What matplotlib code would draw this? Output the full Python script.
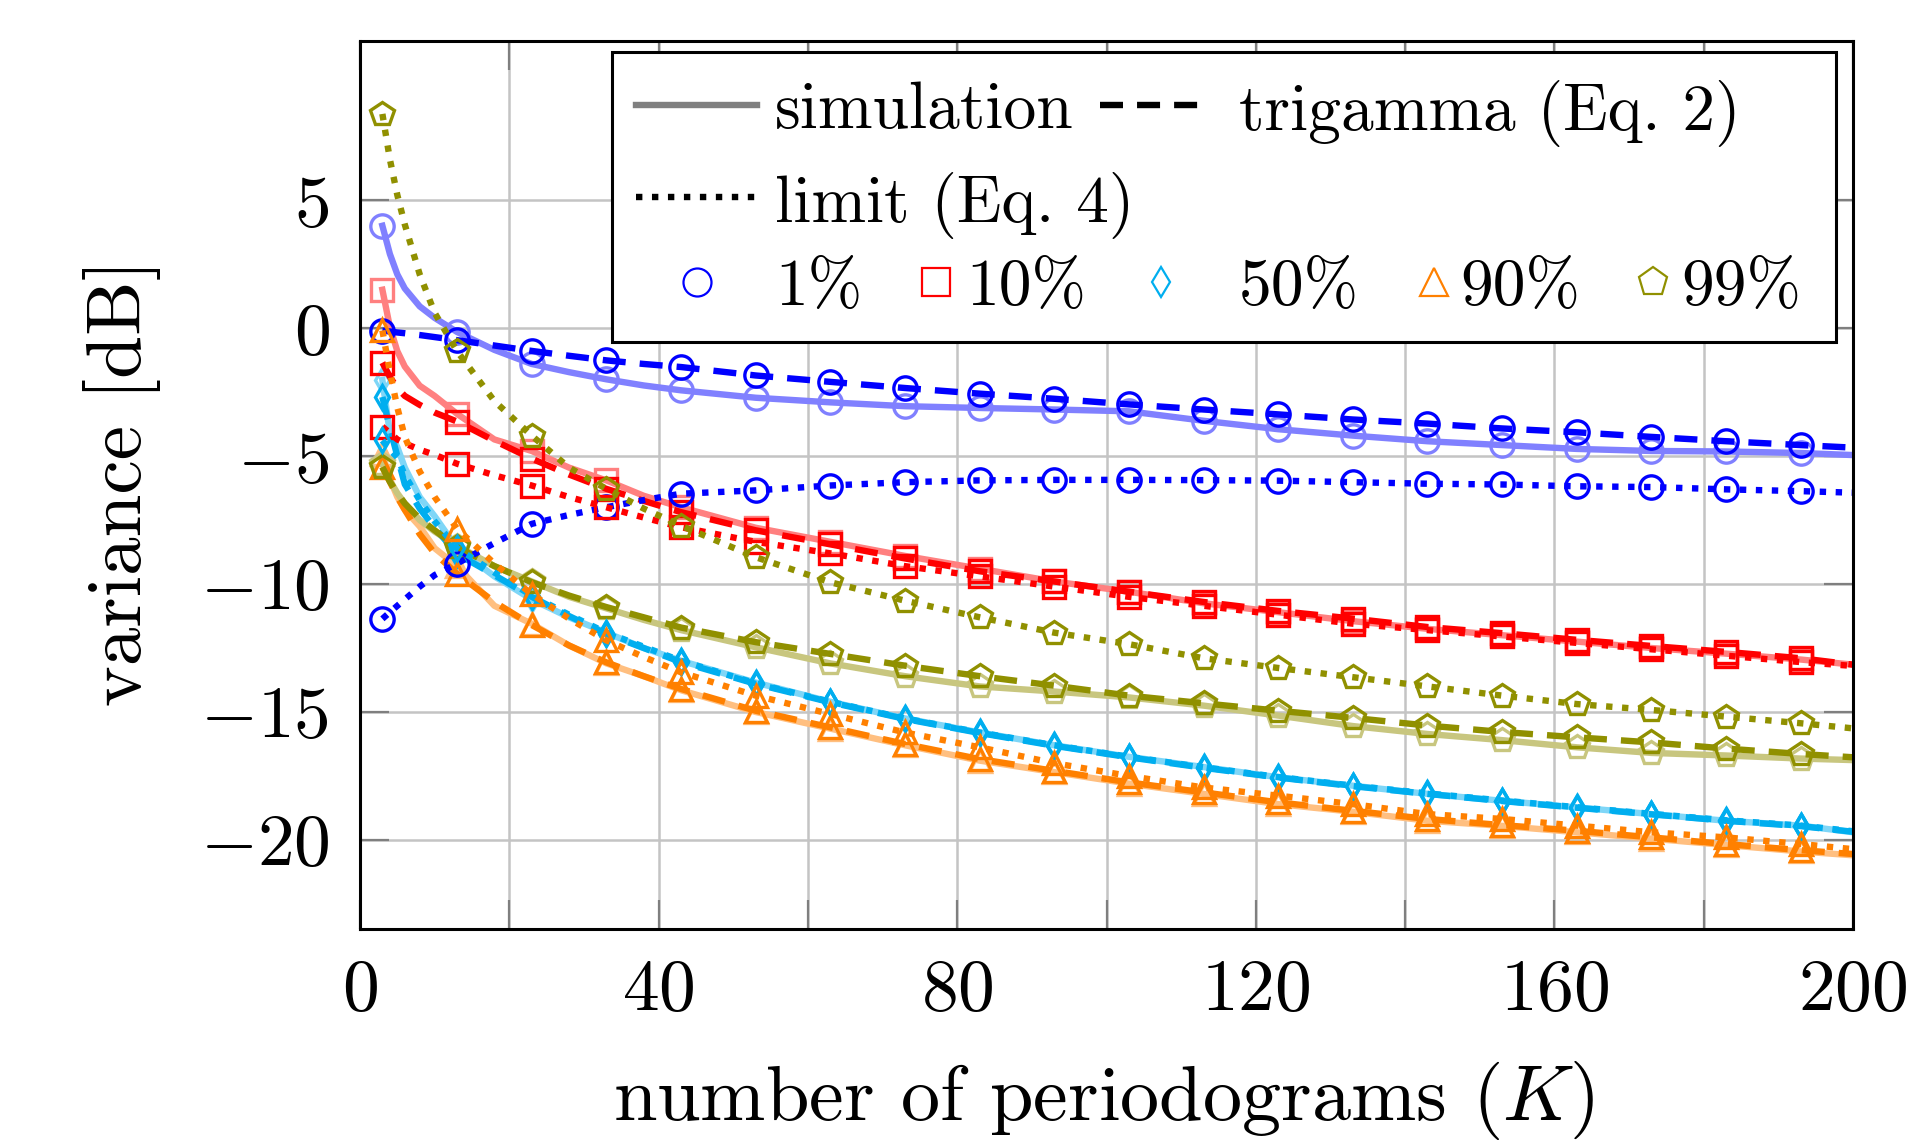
import matplotlib
matplotlib.use('Agg')
import matplotlib.pyplot as plt
from matplotlib.patches import Rectangle
from matplotlib.lines import Line2D

plt.rcParams['font.family'] = 'serif'
plt.rcParams['font.serif'] = ['cmr10']
plt.rcParams['mathtext.fontset'] = 'cm'
plt.rcParams['axes.formatter.use_mathtext'] = True

# number of periodograms K (dense at the start where curves bend)
K = [3, 4, 5, 6, 8, 10, 13, 18, 23, 28, 33, 38, 43, 53, 63, 73, 83, 93, 103,
     113, 123, 133, 143, 153, 163, 173, 183, 193, 200]
K_MARK = list(range(3, 200, 10))

# variance [dB] per quantile: simulation / trigamma (Eq. 2) / limit (Eq. 4)
sim_1 = [4.0, 2.9, 2.1, 1.55, 0.85, 0.4, -0.15, -0.85, -1.4, -1.72, -2.0, -2.24, -2.43, -2.72, -2.9,
         -3.05, -3.12, -3.18, -3.25, -3.62, -3.95, -4.2, -4.42, -4.57, -4.72, -4.8, -4.82, -4.88, -4.96]
tri_1 = [-0.1, -0.13, -0.17, -0.2, -0.27, -0.35, -0.47, -0.68, -0.89, -1.08, -1.26, -1.4, -1.52, -1.85, -2.1,
         -2.34, -2.56, -2.76, -2.98, -3.18, -3.37, -3.57, -3.73, -3.92, -4.07, -4.25, -4.42, -4.57, -4.67]
lim_1 = [-11.36, -11.1, -10.85, -10.6, -10.1, -9.65, -9.2, -8.4, -7.65, -7.3, -7.0, -6.72, -6.47, -6.34, -6.15,
         -6.02, -5.95, -5.93, -5.93, -5.94, -5.96, -6.02, -6.08, -6.11, -6.18, -6.21, -6.3, -6.37, -6.43]

sim_10 = [1.5, 0.05, -0.9, -1.5, -2.25, -2.65, -3.35, -4.35, -4.8, -5.45, -5.95, -6.55, -7.0, -7.8, -8.35,
          -8.9, -9.4, -9.9, -10.3, -10.75, -11.1, -11.45, -11.75, -12.0, -12.25, -12.5, -12.72, -12.95, -13.15]
tri_10 = [-1.35, -1.9, -2.35, -2.65, -3.0, -3.3, -3.65, -4.4, -5.1, -5.72, -6.28, -6.75, -7.19, -7.9, -8.45,
          -9.0, -9.5, -9.9, -10.3, -10.7, -11.05, -11.35, -11.68, -11.92, -12.18, -12.42, -12.65, -12.9, -13.15]
lim_10 = [-3.85, -4.1, -4.35, -4.5, -4.75, -4.95, -5.3, -5.75, -6.15, -6.6, -7.0, -7.4, -7.78, -8.35, -8.8,
          -9.3, -9.7, -10.1, -10.5, -10.85, -11.2, -11.55, -11.8, -12.05, -12.3, -12.55, -12.8, -13.05, -13.2]

sim_50 = [-2.03, -4.1, -4.65, -5.45, -6.6, -7.35, -8.6, -9.7, -10.6, -11.3, -11.9, -12.5, -13.0, -13.85, -14.6,
          -15.25, -15.8, -16.3, -16.75, -17.15, -17.55, -17.88, -18.2, -18.47, -18.73, -18.99, -19.25, -19.44, -19.7]
tri_50 = [-2.69, -3.9, -5.0, -6.1, -7.05, -7.8, -8.82, -9.65, -10.5, -11.25, -11.95, -12.5, -13.05, -13.9, -14.62,
          -15.27, -15.82, -16.32, -16.77, -17.18, -17.56, -17.9, -18.2, -18.48, -18.74, -19.0, -19.25, -19.46, -19.68]
lim_50 = [-4.39, -4.75, -5.05, -5.75, -6.73, -7.55, -8.6, -9.55, -10.45, -11.2, -11.9, -12.45, -13.0, -13.88, -14.6,
          -15.25, -15.8, -16.3, -16.75, -17.16, -17.54, -17.88, -18.18, -18.46, -18.72, -18.98, -19.23, -19.44, -19.66]

sim_90 = [-4.9, -5.9, -6.6, -7.1, -7.75, -8.6, -9.3, -10.85, -11.55, -12.4, -13.1, -13.6, -14.15, -15.0, -15.65,
          -16.3, -16.9, -17.35, -17.8, -18.2, -18.6, -18.9, -19.25, -19.45, -19.7, -19.95, -20.2, -20.45, -20.6]
tri_90 = [-5.43, -6.0, -6.6, -7.1, -8.05, -8.8, -9.6, -10.7, -11.6, -12.4, -13.06, -13.6, -14.1, -14.95, -15.6,
          -16.25, -16.84, -17.3, -17.75, -18.14, -18.53, -18.86, -19.18, -19.42, -19.64, -19.9, -20.16, -20.4, -20.55]
lim_90 = [-0.09, -1.7, -3.1, -4.25, -5.6, -6.6, -7.84, -9.2, -10.4, -11.35, -12.2, -12.85, -13.45, -14.36, -15.08,
          -15.8, -16.38, -17.0, -17.5, -17.95, -18.27, -18.6, -18.99, -19.18, -19.44, -19.7, -19.9, -20.16, -20.36]

sim_99 = [-5.3, -5.95, -6.45, -6.85, -7.5, -7.95, -8.5, -9.3, -9.9, -10.5, -10.95, -11.4, -11.8, -12.47, -13.1,
          -13.6, -14.0, -14.2, -14.43, -14.75, -15.14, -15.55, -15.86, -16.1, -16.38, -16.6, -16.7, -16.82, -16.88]
tri_99 = [-5.43, -6.0, -6.45, -6.85, -7.45, -7.9, -8.56, -9.3, -9.93, -10.45, -10.9, -11.3, -11.7, -12.27, -12.73,
          -13.19, -13.6, -13.97, -14.36, -14.66, -14.95, -15.23, -15.53, -15.78, -15.99, -16.19, -16.43, -16.64, -16.77]
lim_99 = [8.37, 6.6, 5.2, 4.05, 2.1, 0.6, -0.9, -2.85, -4.2, -5.45, -6.28, -7.05, -7.72, -8.95, -9.93,
          -10.65, -11.3, -11.9, -12.35, -12.9, -13.28, -13.64, -14.0, -14.36, -14.69, -14.92, -15.18, -15.44, -15.64]

QUANTILES = ['1%', '10%', '50%', '90%', '99%']
COLORS = ['#0000ff', '#ff0000', '#00aeef', '#ff8000', '#909000']
LIGHT = ['#8080ff', '#ff8080', '#7fd6f7', '#ffbf80', '#c8c67f']
MARKERS = ['o', 's', 'd', '^', 'p']
MSIZE = [8.4, 8.2, 6.2, 8.2, 8.8]
SERIES = [(sim_1, tri_1, lim_1), (sim_10, tri_10, lim_10), (sim_50, tri_50, lim_50),
          (sim_90, tri_90, lim_90), (sim_99, tri_99, lim_99)]

W, H, DPI = 1918, 1140, 200
fig = plt.figure(figsize=(W/DPI, H/DPI), dpi=DPI)
ax = fig.add_axes([360/W, 1-929/H, (1853-360)/W, (929-41)/H])

mark_idx = [K.index(k) for k in K_MARK]
LW = 2.3
MEW = 1.2
for (sim, tri, lim), c, lc, m, ms in zip(SERIES, COLORS, LIGHT, MARKERS, MSIZE):
    ax.plot(K, sim, color=lc, lw=LW, marker=m, ms=ms, mfc='none', mec=lc, mew=MEW,
            markevery=mark_idx, solid_joinstyle='round', zorder=3)
    ax.plot(K, tri, color=c, lw=LW, dashes=(3.6, 2.2), dash_capstyle='butt', marker=m, ms=ms,
            mfc='none', mec=c, mew=MEW, markevery=mark_idx, zorder=4)
    ax.plot(K, lim, color=c, lw=LW, dashes=(1, 1.5), dash_capstyle='butt', marker=m, ms=ms,
            mfc='none', mec=c, mew=MEW, markevery=mark_idx, zorder=5)

ax.set_xlim(0, 200)
ax.set_ylim(-23.48, 11.22)
xt = list(range(0, 201, 20))
ax.set_xticks(xt)
ax.set_xticklabels([f'${v}$' if v % 40 == 0 else '' for v in xt])
yt = [-20, -15, -10, -5, 0, 5]
ax.set_yticks(yt)
ax.set_yticklabels([f'${v}$' for v in yt])
ax.tick_params(direction='in', length=10.5, width=0.8, color='#7f7f7f', labelsize=26.5,
               top=True, right=True, pad=11)
ax.grid(True, color='#c4c4c4', lw=0.9, zorder=0)
ax.set_axisbelow(True)
for s in ax.spines.values():
    s.set_linewidth(1.1)
    s.set_zorder(10)

fig.text(0.5754, 1-1101/H, r'number of periodograms ($K$)', fontsize=28.2, ha='center', va='center')
fig.text(122/W, 1-482/H, 'variance [dB]', fontsize=27.8, rotation=90, ha='center', va='center')

# hand-built legend box
tr = ax.transAxes
ax.add_patch(Rectangle((0.169, 0.6614), 0.9886-0.169, 0.988-0.6614, transform=tr,
                       facecolor='white', edgecolor='black', lw=1.1, zorder=20))
LFS = 23.6
ax.add_line(Line2D([0.1849, 0.2659], [0.928, 0.928], transform=tr, color='#808080', lw=LW, zorder=21))
ax.text(0.278, 0.928, 'simulation', transform=tr, fontsize=LFS, va='center_baseline', zorder=22)
ax.add_line(Line2D([0.4956, 0.5673], [0.928, 0.928], transform=tr, color='black', lw=LW,
                   dashes=(3.6, 2.2), zorder=21))
ax.text(0.5888, 0.928, 'trigamma (Eq. 2)', transform=tr, fontsize=LFS, va='center_baseline', zorder=22)
ax.add_line(Line2D([0.1849, 0.2659], [0.8247, 0.8247], transform=tr, color='black', lw=LW,
                   dashes=(1, 1.5), zorder=21))
ax.text(0.278, 0.8247, 'limit (Eq. 4)', transform=tr, fontsize=LFS, va='center_baseline', zorder=22)
mk_x = [0.2254, 0.3858, 0.5365, 0.7194, 0.866]
tx_x = [0.278, 0.406, 0.5888, 0.7368, 0.8848]
for q, c, m, ms, mx, tx in zip(QUANTILES, COLORS, MARKERS, MSIZE, mk_x, tx_x):
    ax.add_line(Line2D([mx], [0.729], transform=tr, color=c, marker=m, ms=ms*1.2, mfc='none',
                       mec=c, mew=0.8, ls='none', zorder=21))
    ax.text(tx, 0.729, q, transform=tr, fontsize=LFS, va='center_baseline', zorder=22)

fig.savefig('out.png', dpi=DPI)
